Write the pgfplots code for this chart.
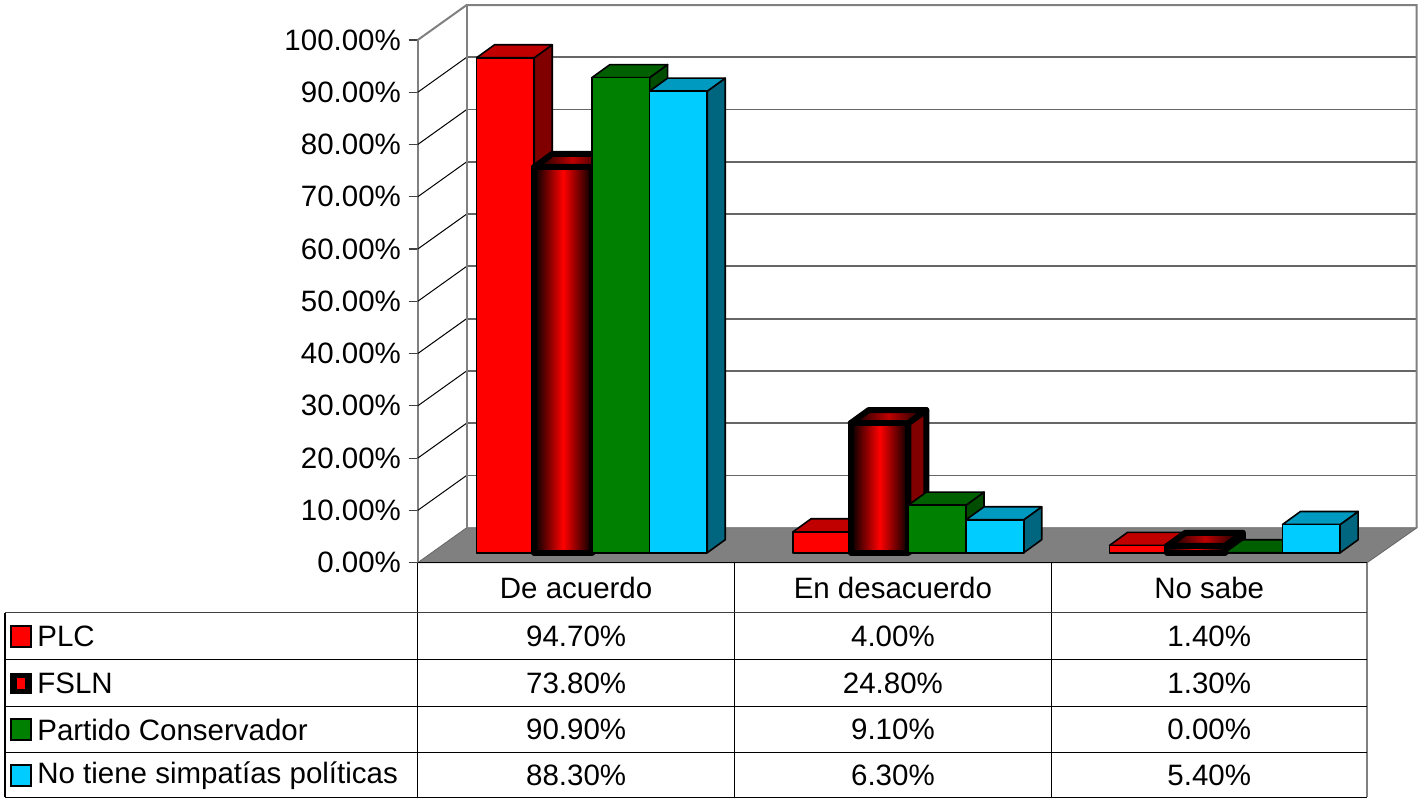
\documentclass[border=0pt]{standalone}
\usepackage{pgfplots}
\pgfplotsset{compat=1.18}
\usepackage{fontspec}
\setmainfont{Liberation Sans}
\definecolor{plcF}{RGB}{255,0,0}
\definecolor{plcT}{RGB}{192,0,0}
\definecolor{plcS}{RGB}{128,0,0}
\definecolor{pcF}{RGB}{0,128,0}
\definecolor{pcT}{RGB}{0,96,0}
\definecolor{pcS}{RGB}{0,76,0}
\definecolor{ntF}{RGB}{0,204,255}
\definecolor{ntT}{RGB}{0,153,192}
\definecolor{ntS}{RGB}{0,102,128}
\definecolor{floorC}{RGB}{128,128,128}
\tikzset{
  plcf/.style={fill=plcF,draw=black,line width=0.8pt,line join=round},
  plct/.style={fill=plcT,draw=black,line width=0.8pt,line join=round},
  plcs/.style={fill=plcS,draw=black,line width=0.8pt,line join=round},
  fslnf/.style={left color=black,right color=black,middle color=plcF,draw=black,line width=3pt,line join=round},
  fslnt/.style={left color=black,right color=black,middle color=plcT,draw=black,line width=3pt,line join=round},
  fslns/.style={fill=plcS,draw=black,line width=3pt,line join=round},
  pcf/.style={fill=pcF,draw=black,line width=0.8pt,line join=round},
  pct/.style={fill=pcT,draw=black,line width=0.8pt,line join=round},
  pcs/.style={fill=pcS,draw=black,line width=0.8pt,line join=round},
  ntf/.style={fill=ntF,draw=black,line width=0.8pt,line join=round},
  ntt/.style={fill=ntT,draw=black,line width=0.8pt,line join=round},
  nts/.style={fill=ntS,draw=black,line width=0.8pt,line join=round},
}
% #1 group, #2 series index, #3 value, #4 series prefix
\newcommand{\drawbar}[4]{%
  \pgfmathsetmacro\xa{476.9+316.67*#1+57.7*#2}%
  \pgfmathsetmacro\xb{\xa+57.7}%
  \pgfmathsetmacro\xc{\xa+57.7+18}%
  \pgfmathsetmacro\xd{\xa+18}%
  \pgfmathsetmacro\ya{1.9}%
  \pgfmathsetmacro\yb{1.9+#3}%
  \pgfmathsetmacro\yc{1.9+#3+2.49}%
  \pgfmathsetmacro\yd{1.9+2.49}%
  \edef\tmp{%
    \noexpand\addplot[#4s] coordinates {(\xb,\ya) (\xc,\yd) (\xc,\yc) (\xb,\yb)} -- cycle;
    \noexpand\addplot[#4t] coordinates {(\xa,\yb) (\xb,\yb) (\xc,\yc) (\xd,\yc)} -- cycle;
    \noexpand\addplot[#4f] coordinates {(\xa,\ya) (\xb,\ya) (\xb,\yb) (\xa,\yb)} -- cycle;
  }\tmp
}
\newcommand{\fs}{\fontsize{14.75}{17.5}\selectfont}
\begin{document}
\begin{tikzpicture}
\begin{axis}[
  x=0.5pt, y=2.615pt,
  xmin=418, xmax=1418, ymin=0, ymax=100,
  clip=false,
  axis lines=left,
  axis line style={-},
  x axis line style={draw=none},
  y axis line style={draw=floorC,line width=1pt},
  xtick=\empty,
  ytick={0,10,...,100},
  tick align=outside,
  major tick length=4.5pt,
  ytick style={black!75,line width=0.6pt},
  /pgf/number format/assume math mode=true,
  yticklabel={\pgfmathprintnumber[fixed,fixed zerofill,precision=2]{\tick}\%},
  yticklabel style={font=\fs,xshift=-0.4pt},
]
% bounding box
\path (axis cs:0,-45.12) rectangle (axis cs:1418,107.65);
% floor
\addplot[fill=floorC,draw=black!60,line width=0.4pt] coordinates {(418,0) (1368,0) (1418,6.69) (467,6.69)} -- cycle;
% back wall grid
\addplot[black!60,line width=0.9pt] coordinates {(467,16.69) (1418,16.69)};
\addplot[black!60,line width=0.9pt] coordinates {(467,26.69) (1418,26.69)};
\addplot[black!60,line width=0.9pt] coordinates {(467,36.69) (1418,36.69)};
\addplot[black!60,line width=0.9pt] coordinates {(467,46.69) (1418,46.69)};
\addplot[black!60,line width=0.9pt] coordinates {(467,56.69) (1418,56.69)};
\addplot[black!60,line width=0.9pt] coordinates {(467,66.69) (1418,66.69)};
\addplot[black!60,line width=0.9pt] coordinates {(467,76.69) (1418,76.69)};
\addplot[black!60,line width=0.9pt] coordinates {(467,86.69) (1418,86.69)};
\addplot[black!60,line width=0.9pt] coordinates {(467,96.69) (1418,96.69)};
% side wall grid
\addplot[black,line width=0.5pt] coordinates {(418,10) (467,16.69)};
\addplot[black,line width=0.5pt] coordinates {(418,20) (467,26.69)};
\addplot[black,line width=0.5pt] coordinates {(418,30) (467,36.69)};
\addplot[black,line width=0.5pt] coordinates {(418,40) (467,46.69)};
\addplot[black,line width=0.5pt] coordinates {(418,50) (467,56.69)};
\addplot[black,line width=0.5pt] coordinates {(418,60) (467,66.69)};
\addplot[black,line width=0.5pt] coordinates {(418,70) (467,76.69)};
\addplot[black,line width=0.5pt] coordinates {(418,80) (467,86.69)};
\addplot[black,line width=0.5pt] coordinates {(418,90) (467,96.69)};
% wall borders
\addplot[floorC,line width=1pt] coordinates {(418,100) (467,106.69) (1417.5,106.69) (1417.5,6.69)};
\addplot[floorC,line width=1pt] coordinates {(467,6.69) (467,106.69)};
\addplot[black,line width=0.6pt] coordinates {(418,0) (1368,0)};
% bars: De acuerdo
\drawbar{0}{0}{94.7}{plc}
\drawbar{0}{1}{73.8}{fsln}
\drawbar{0}{2}{90.9}{pc}
\drawbar{0}{3}{88.3}{nt}
% En desacuerdo
\drawbar{1}{0}{4.0}{plc}
\drawbar{1}{1}{24.8}{fsln}
\drawbar{1}{2}{9.1}{pc}
\drawbar{1}{3}{6.3}{nt}
% No sabe
\drawbar{2}{0}{1.4}{plc}
\drawbar{2}{1}{1.3}{fsln}
\drawbar{2}{2}{0.0}{pc}
\drawbar{2}{3}{5.4}{nt}
% data table
\draw[black,line width=0.6pt] (axis cs:418,0) -- (axis cs:418,-44.93);
\draw[black,line width=0.6pt] (axis cs:735,0) -- (axis cs:735,-44.93);
\draw[black,line width=0.6pt] (axis cs:1052,0) -- (axis cs:1052,-44.93);
\draw[floorC,line width=0.8pt] (axis cs:1368,0) -- (axis cs:1368,-44.93);
\draw[black,line width=0.6pt] (axis cs:5,-9.56) -- (axis cs:5,-44.93);
\draw[black!75,line width=0.6pt] (axis cs:5,-9.56) -- (axis cs:1368,-9.56);
\draw[black,line width=0.5pt] (axis cs:5,-18.55) -- (axis cs:1368,-18.55);
\draw[black,line width=0.5pt] (axis cs:5,-27.53) -- (axis cs:1368,-27.53);
\draw[black,line width=0.5pt] (axis cs:5,-36.33) -- (axis cs:1368,-36.33);
\draw[black,line width=0.6pt] (axis cs:5,-44.93) -- (axis cs:1368,-44.93);
\node[font=\fs] at (axis cs:576.5,-4.78) {De acuerdo};
\node[font=\fs] at (axis cs:893.5,-4.78) {En desacuerdo};
\node[font=\fs] at (axis cs:1210,-4.78) {No sabe};
\node[font=\fs] at (axis cs:576.5,-14.15) {94.70\%};
\node[font=\fs] at (axis cs:893.5,-14.15) {4.00\%};
\node[font=\fs] at (axis cs:1210,-14.15) {1.40\%};
\node[font=\fs] at (axis cs:576.5,-23.14) {73.80\%};
\node[font=\fs] at (axis cs:893.5,-23.14) {24.80\%};
\node[font=\fs] at (axis cs:1210,-23.14) {1.30\%};
\node[font=\fs] at (axis cs:576.5,-31.93) {90.90\%};
\node[font=\fs] at (axis cs:893.5,-31.93) {9.10\%};
\node[font=\fs] at (axis cs:1210,-31.93) {0.00\%};
\node[font=\fs] at (axis cs:576.5,-40.73) {88.30\%};
\node[font=\fs] at (axis cs:893.5,-40.73) {6.30\%};
\node[font=\fs] at (axis cs:1210,-40.73) {5.40\%};
% legend keys and names
\filldraw[fill=plcF,draw=black,line width=0.7pt] (axis cs:11,-12.15) rectangle (axis cs:31,-16.15);
\fill[black] (axis cs:10,-21.14) rectangle (axis cs:32,-25.14);
\fill[plcF] (axis cs:17,-22.14) rectangle (axis cs:25,-24.14);
\filldraw[fill=pcF,draw=black,line width=0.7pt] (axis cs:11,-29.93) rectangle (axis cs:31,-33.93);
\filldraw[fill=ntF,draw=black,line width=0.7pt] (axis cs:11,-38.73) rectangle (axis cs:31,-42.73);
\node[font=\fs,anchor=west,inner sep=0pt] at (axis cs:37,-14.15) {PLC};
\node[font=\fs,anchor=west,inner sep=0pt] at (axis cs:37,-23.14) {FSLN};
\node[font=\fs,anchor=west,inner sep=0pt] at (axis cs:37,-31.93) {Partido Conservador};
\node[font=\fs,anchor=west,inner sep=0pt] at (axis cs:37,-40.73) {No tiene simpatías políticas};
\end{axis}
\end{tikzpicture}
\end{document}
